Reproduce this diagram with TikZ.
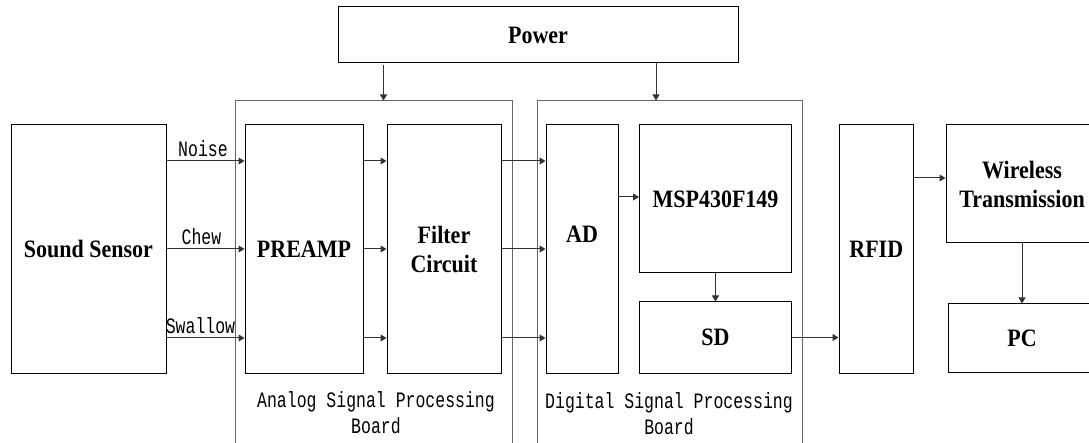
\documentclass[tikz,border=0pt]{standalone}
\usepackage{fontspec}
\setmainfont{Liberation Serif}
\newfontfamily\blkfont[FakeStretch=0.88]{Liberation Serif}
\newfontfamily\lblfont[FakeStretch=0.75]{Liberation Mono}
\usetikzlibrary{arrows.meta}
\tikzset{
  blk/.style={draw=black, line width=1pt, inner sep=0pt, font=\blkfont\fontsize{25}{29}\selectfont\bfseries, align=center},
  board/.style={draw=black!60, line width=1pt, inner sep=0pt},
  arr/.style={draw=black!80, line width=1pt, -{Triangle[length=6pt,width=7pt]}},
  lbl/.style={inner sep=0pt, font=\lblfont\fontsize{22}{26}\selectfont, align=center},
}
\begin{document}
\begin{tikzpicture}[x=1pt,y=-1pt]
\useasboundingbox (0,0) rectangle (1089,443);
% boards
\node[board, minimum width=277pt, minimum height=360pt] (ab) at (373.5,281) {};
\node[board, minimum width=265pt, minimum height=360pt] (db) at (669.5,281) {};
% blocks
\node[blk, minimum width=400pt, minimum height=56pt] (pw) at (538,35) {Power};
\node[blk, minimum width=155pt, minimum height=248pt] (ss) at (88.5,249) {Sound Sensor};
\node[blk, minimum width=118pt, minimum height=248pt] (pre) at (304,249) {PREAMP};
\node[blk, minimum width=114pt, minimum height=248pt] (flt) at (444,249) {Filter\\Circuit};
\node[blk, minimum width=72pt, minimum height=248pt] (ad) at (582,249) {};
\node[blk, minimum width=152pt, minimum height=148pt] (msp) at (715.5,199) {MSP430F149};
\node[blk, minimum width=152pt, minimum height=71pt] (sd) at (715.5,337.5) {SD};
\node[blk, minimum width=74.5pt, minimum height=248pt] (rfid) at (876.25,249) {RFID};
\node[blk, minimum width=152pt, minimum height=118pt] (wl) at (1022,184) {Wireless\\Transmission};
\node[blk, minimum width=147pt, minimum height=68pt] (pc) at (1022,338) {PC};
\node[inner sep=0pt, font=\blkfont\fontsize{25}{29}\selectfont\bfseries] (adt) at (582,234) {AD};
% labels of boards
\node[lbl] (abl) at (376,413) {Analog Signal Processing\\Board};
\node[lbl] (dbl) at (669,413.5) {Digital Signal Processing\\Board};
% helper coordinates
\coordinate (r1) at (0,161);
\coordinate (r2) at (0,249);
\coordinate (r3) at (0,338);
\coordinate (r4) at (0,197);
\coordinate (r5) at (0,178);
\coordinate (pa) at (383.5,0);
\coordinate (pd) at (656,0);
% power arrows
\draw[arr] ([yshift=-2pt]pw.south -| pa) -- (ab.north -| pa);
\draw[arr] (pw.south -| pd) -- (db.north -| pd);
% signal arrows
\foreach \r in {r1,r2,r3}{
  \draw[arr] (ss.east |- \r) -- (pre.west |- \r);
  \draw[arr] (pre.east |- \r) -- (flt.west |- \r);
  \draw[arr] (flt.east |- \r) -- (ad.west |- \r);
}
\node[lbl, anchor=south] (ln) at (203,157) {Noise};
\node[lbl, anchor=south] (lc) at (201.5,245) {Chew};
\node[lbl, anchor=south] (lsw) at (200.5,334) {Swallow};
\draw[arr] (ad.east |- r4) -- (msp.west |- r4);
\draw[arr] (msp.south) -- (sd.north);
\draw[arr] (sd.east) -- (rfid.west |- sd.east);
\draw[arr] (rfid.east |- r5) -- (wl.west |- r5);
\draw[arr] (wl.south) -- (pc.north);
\end{tikzpicture}
\end{document}
